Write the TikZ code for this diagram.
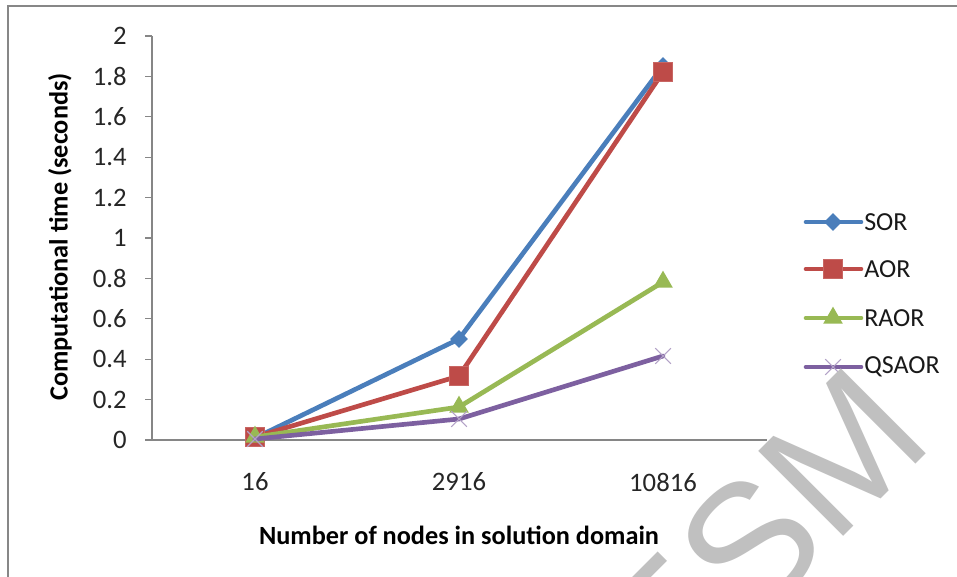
\documentclass[tikz,border=0pt]{standalone}
\usepackage{fontspec}
\setmainfont{Carlito}
\newfontfamily\wmfont{Liberation Sans}
\usetikzlibrary{shapes.geometric,shapes.misc}
\definecolor{sorc}{HTML}{4A7EBB}
\definecolor{aorc}{HTML}{BE4B48}
\definecolor{raorc}{HTML}{98B954}
\definecolor{qsaorc}{HTML}{7D60A0}
\definecolor{qsaorm}{HTML}{B3A2C7}
\definecolor{axisc}{HTML}{868686}
\definecolor{framec}{HTML}{878787}
\definecolor{wmc}{HTML}{C0C0C0}
\begin{document}
\begin{tikzpicture}[x=0.75pt,y=-0.75pt,
  series/.style={line width=3.5pt,line cap=round,line join=round},
  axisline/.style={axisc,line width=1pt},
  ticklab/.style={font=\fontsize{20pt}{22pt}\selectfont,text=black!85,inner sep=0pt},
  titlelab/.style={font=\bfseries\fontsize{19.7pt}{22pt}\selectfont,inner sep=0pt},
  leglab/.style={font=\fontsize{19.5pt}{22pt}\selectfont,text=black!90,inner sep=0pt,anchor=west},
  sormark/.style={diamond,fill=sorc,inner sep=0pt,minimum width=13.5pt,minimum height=13.5pt},
  aormark/.style={rectangle,fill=aorc,draw=aorc!85!white,line width=0.5pt,inner sep=0pt,minimum size=14pt},
  raormark/.style={regular polygon,regular polygon sides=3,fill=raorc,inner sep=0pt,minimum size=17pt},
  qsaormark/.style={cross out,draw=qsaorm,line width=0.8pt,inner sep=0pt,minimum size=11pt},
  wmark/.style={text=wmc,font=\wmfont\fontsize{131pt}{131pt}\selectfont,rotate=45,inner sep=0pt}]
\useasboundingbox (0,0) rectangle (957,577);
\fill[white] (0,0) rectangle (957,577);
% frame
\draw[framec,line width=1.6pt] (990,6) -- (8,6) -- (8,600);
% axes
\coordinate (yb) at (152,440);
\coordinate (yt) at (152,36);
\coordinate (xr) at (767,440);
\draw[axisline] (yt) -- (yb) -- (xr);
\foreach \k/\lab in {0/0,1/0.2,2/0.4,3/0.6,4/0.8,5/1,6/1.2,7/1.4,8/1.6,9/1.8,10/2}{
  \coordinate (tk\k) at (152,{440-40.4*\k});
  \draw[axisline] (tk\k) -- ++(-7,0);
  \node[ticklab,anchor=east] (yl\k) at ({127},{440-40.4*\k}) {\lab};
}
\node[ticklab] (xl1) at (255,482) {16};
\node[ticklab] (xl2) at (459,482) {2916};
\node[ticklab] (xl3) at (663,482) {10816};
\node[titlelab] (xtitle) at (459,535) {Number of nodes in solution domain};
\node[titlelab,rotate=90] (ytitle) at (60,237) {Computational time (seconds)};
% data points
\coordinate (s1) at (255,438); \coordinate (s2) at (459,339); \coordinate (s3) at (663,66);
\coordinate (a1) at (255,437); \coordinate (a2) at (459,376); \coordinate (a3) at (663,72);
\coordinate (r1) at (255,437); \coordinate (r2) at (459,407); \coordinate (r3) at (663,282);
\coordinate (q1) at (255,439); \coordinate (q2) at (459,419); \coordinate (q3) at (663,356);
\draw[series,sorc] (s1) -- (s2) -- (s3);
\foreach \i in {1,2,3}{\node[sormark] (sm\i) at (s\i) {};}
\draw[series,aorc] (a1) -- (a2) -- (a3);
\foreach \i in {1,2,3}{\node[aormark] (am\i) at (a\i) {};}
\draw[series,raorc] (r1) -- (r2) -- (r3);
\foreach \i in {1,2,3}{\node[raormark] (rm\i) at (r\i) {};}
\draw[series,qsaorc] (q1) -- (q2) -- (q3);
\foreach \i in {1,2,3}{\node[qsaormark] (qm\i) at (q\i) {};}
% legend
\coordinate (ls1) at (806,222); \coordinate (ls2) at (861,222);
\draw[series,sorc] (ls1) -- (ls2);
\node[sormark] (lsm) at (833,222) {};
\node[leglab] (lst) at (864,222) {SOR};
\coordinate (la1) at (806,269); \coordinate (la2) at (861,269);
\draw[series,aorc] (la1) -- (la2);
\node[aormark] (lam) at (833,269) {};
\node[leglab] (lat) at (864,269) {AOR};
\coordinate (lr1) at (806,318); \coordinate (lr2) at (861,318);
\draw[series,raorc] (lr1) -- (lr2);
\node[raormark] (lrm) at (833,318) {};
\node[leglab] (lrt) at (864,318) {RAOR};
\coordinate (lq1) at (806,367); \coordinate (lq2) at (861,367);
\draw[series,qsaorc] (lq1) -- (lq2);
\node[qsaormark] (lqm) at (833,367) {};
\node[leglab] (lqt) at (864,367) {QSAOR};
% watermark
\coordinate (wmorg) at (751,629);
\node[wmark,anchor=base west] (wm) at (wmorg) {SM};
\node[wmark,anchor=base east] (wmpre) at (wmorg) {E};
\end{tikzpicture}
\end{document}
